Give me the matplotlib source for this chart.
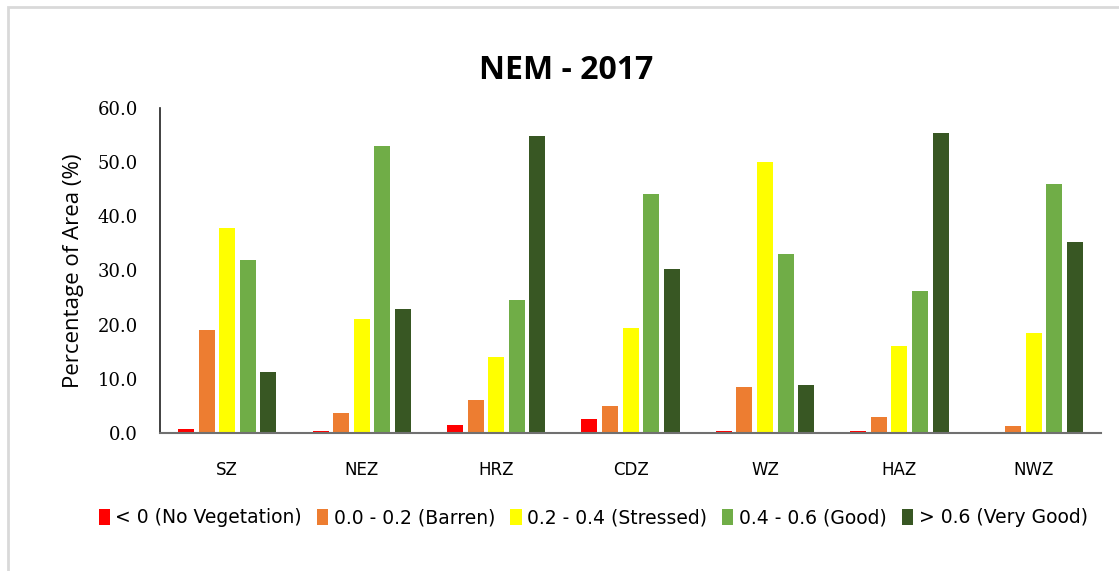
import matplotlib.pyplot as plt
from matplotlib.patches import Rectangle
import numpy as np

zonas = ['SZ', 'NEZ', 'HRZ', 'CDZ', 'WZ', 'HAZ', 'NWZ']
classes = ['< 0 (No Vegetation)', '0.0 - 0.2 (Barren)', '0.2 - 0.4 (Stressed)',
           '0.4 - 0.6 (Good)', '> 0.6 (Very Good)']
sem_vegetacao = [0.7, 0.4, 1.5, 2.5, 0.4, 0.4, 0.0]
arido = [19.0, 3.6, 6.1, 4.9, 8.4, 3.0, 1.3]
estressado = [37.9, 21.0, 14.1, 19.3, 50.0, 16.0, 18.4]
bom = [31.9, 52.9, 24.6, 44.1, 33.0, 26.2, 46.0]
muito_bom = [11.2, 22.8, 54.8, 30.2, 8.9, 55.3, 35.2]
cores = ['#FF0000', '#ED7D31', '#FFFF00', '#70AD47', '#385723']

series = [sem_vegetacao, arido, estressado, bom, muito_bom]

fig = plt.figure(figsize=(11.19, 5.71), dpi=100)
ax = fig.add_axes([0.143, 0.2417, 0.841, 0.5692])

x = np.arange(len(zonas))
passo = 0.153
largura = 0.119
for i, (valores, cor, nome) in enumerate(zip(series, cores, classes)):
    ax.bar(x + (i - 2) * passo, valores, width=largura, color=cor, label=nome)

ax.set_xlim(-0.5, len(zonas) - 0.5)
ax.set_ylim(0, 60)
ax.set_yticks(np.arange(0, 61, 10))
ax.set_yticklabels([f'{v:.1f}' for v in np.arange(0, 61, 10)],
                   fontfamily='DejaVu Serif', fontsize=13)
ax.set_xticks(x)
ax.set_xticklabels(zonas, fontfamily='DejaVu Sans', fontsize=12)
ax.tick_params(axis='both', length=0)
ax.tick_params(axis='x', pad=20)
ax.tick_params(axis='y', pad=16)

for lado in ['top', 'right']:
    ax.spines[lado].set_visible(False)
ax.spines['left'].set_color('#202020')
ax.spines['left'].set_linewidth(1.2)
ax.spines['bottom'].set_color('#707070')
ax.spines['bottom'].set_linewidth(1.5)

ax.set_ylabel('Percentage of Area (%)', fontfamily='Open Sans', fontsize=16, labelpad=10)
fig.text(0.506, 0.876, 'NEM - 2017', ha='center', va='center',
         fontfamily='Open Sans', fontweight='bold', fontsize=23)

fig.legend(loc='center', bbox_to_anchor=(0.53, 0.093), ncol=5, frameon=False,
           prop={'family': 'DejaVu Sans', 'size': 13.5},
           handlelength=0.6, handleheight=0.9, handletextpad=0.3, columnspacing=0.8)

fig.patches.append(Rectangle((8 / 1119, -0.1), 1.2, 1 - 7 / 571 + 0.1,
                             transform=fig.transFigure, fill=False,
                             edgecolor='#D9D9D9', linewidth=2))

plt.savefig('out.png', dpi=100)
